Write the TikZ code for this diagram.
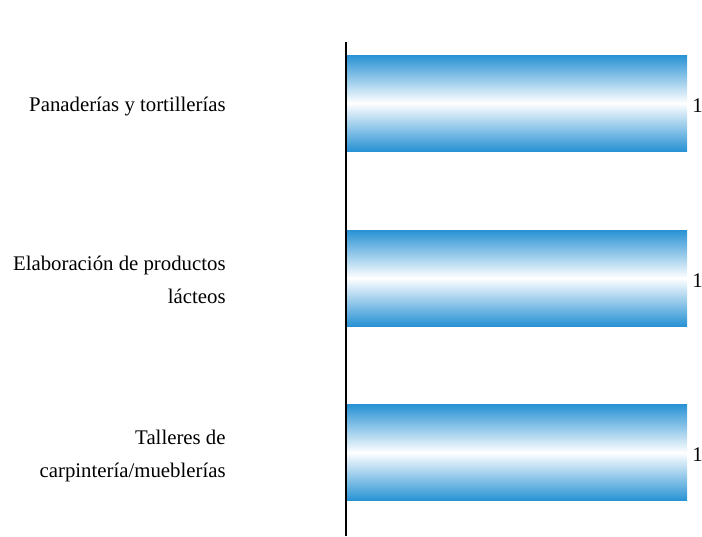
\documentclass[tikz,border=0pt]{standalone}
\usepackage{fontspec}
\setmainfont{Liberation Serif}
\usepackage{tikz}
\usetikzlibrary{calc,positioning}

\definecolor{barblue}{RGB}{40,146,212}

\begin{document}
\begin{tikzpicture}[x=1pt,y=-1pt]
      \tikzstyle{hbar} = [inner sep=0pt, minimum width=340pt, minimum height=96pt,
        top color=barblue, bottom color=barblue, middle color=white]
      \tikzstyle{lbl} = [inner sep=0pt, align=right, font=\fontsize{20.8}{32.6}\selectfont]
      \tikzstyle{val} = [inner sep=0pt, font=\fontsize{20.8}{25}\selectfont]

      \useasboundingbox (0,0) rectangle (702,536);

      % bars
      \node[hbar] (b1) at (517,103) {};
      \node[hbar] (b2) at (517,278) {};
      \node[hbar] (b3) at (517,452.5) {};

      % category labels
      \node[lbl, left=121pt of b1.west, yshift=-3.5pt] (l1) {Panaderías y tortillerías};
      \node[lbl, left=121pt of b2.west, yshift=-2pt] (l2) {Elaboración de productos\\lácteos};
      \node[lbl, left=121pt of b3.west, yshift=-3.5pt] (l3) {Talleres de\\carpintería/mueblerías};

      % values
      \node[val, right=5pt of b1.east, yshift=-2.5pt] (v1) {1};
      \node[val, right=5pt of b2.east, yshift=-2.5pt] (v2) {1};
      \node[val, right=5pt of b3.east, yshift=-2.5pt] (v3) {1};

      % axis
      \coordinate (atop) at (346,42);
      \coordinate (abot) at (346,536);
      \draw[line width=2.7pt] (atop) -- (abot);
\end{tikzpicture}
\end{document}
